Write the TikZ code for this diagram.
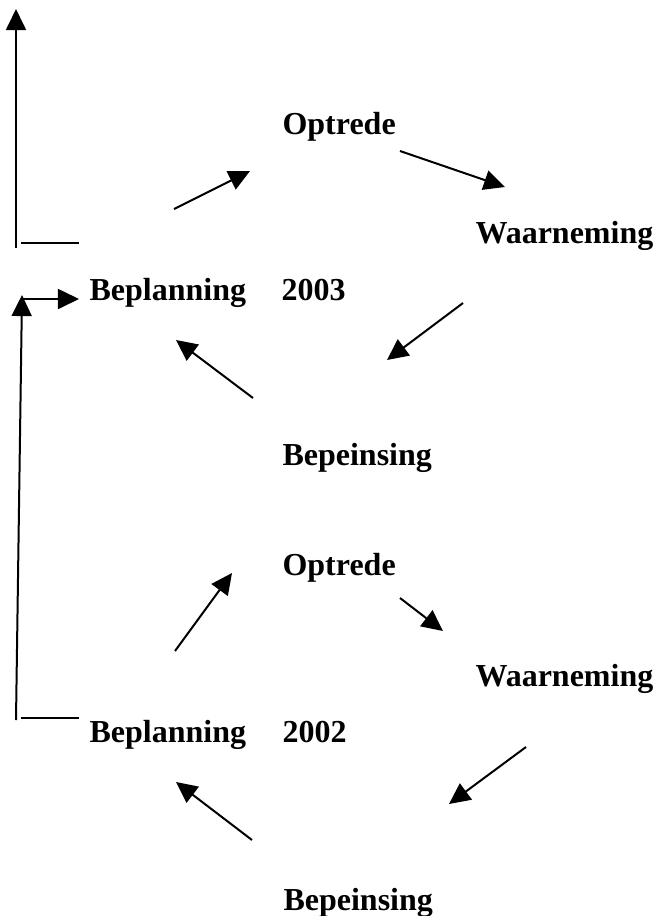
\documentclass[tikz,border=0pt]{standalone}
\usepackage{fontspec}
\setmainfont{Liberation Serif}
\usetikzlibrary{arrows.meta}

\tikzset{
	woord/.style={anchor=base west, inner sep=0pt, font=\fontsize{12}{14}\selectfont\bfseries},
	pyl/.style={-{Triangle[length=7.9pt,width=7.5pt]}, line width=0.75pt},
	lyn/.style={line width=0.75pt}
}

\begin{document}
\begin{tikzpicture}[x=0.375pt, y=-0.375pt]
	\useasboundingbox (0,0) rectangle (656,916);

		% Siklus 2003
		\begin{scope}
			\node[woord] (opt1) at (282,134) {Optrede};
			\node[woord] (waar1) at (475,243) {Waarneming};
			\node[woord] (plan1) at (89,300) {Beplanning};
			\node[woord] (jaar1) at (281,300) {2003};
			\node[woord] (bepe1) at (282,465) {Bepeinsing};
			\coordinate (p1a) at (174,209); \coordinate (p1b) at (250,171);
			\coordinate (p2a) at (400,151); \coordinate (p2b) at (505,187);
			\coordinate (p3a) at (463,303); \coordinate (p3b) at (387,360);
			\coordinate (p4a) at (253,398); \coordinate (p4b) at (176,340);
			\draw[pyl] (p1a) -- (p1b);
			\draw[pyl] (p2a) -- (p2b);
			\draw[pyl] (p3a) -- (p3b);
			\draw[pyl] (p4a) -- (p4b);
		\end{scope}

		% Siklus 2002
		\begin{scope}
			\node[woord] (opt2) at (282,575) {Optrede};
			\node[woord] (waar2) at (475,686) {Waarneming};
			\node[woord] (plan2) at (89,742) {Beplanning};
			\node[woord] (jaar2) at (282,742) {2002};
			\node[woord] (bepe2) at (283,910) {Bepeinsing};
			\coordinate (q1a) at (175,651); \coordinate (q1b) at (232,573);
			\coordinate (q2a) at (400,598); \coordinate (q2b) at (443,631);
			\coordinate (q3a) at (526,747); \coordinate (q3b) at (449,804);
			\coordinate (q4a) at (252,840); \coordinate (q4b) at (176,782);
			\draw[pyl] (q1a) -- (q1b);
			\draw[pyl] (q2a) -- (q2b);
			\draw[pyl] (q3a) -- (q3b);
			\draw[pyl] (q4a) -- (q4b);
		\end{scope}

		% Lyne links
		\coordinate (bo1) at (16,248); \coordinate (bo2) at (16,9);
		\coordinate (h1a) at (21,243); \coordinate (h1b) at (79,243);
		\coordinate (on1) at (16,720); \coordinate (on2) at (22,295);
		\coordinate (h2a) at (21,718); \coordinate (h2b) at (79,718);
		\coordinate (h3a) at (23,299); \coordinate (h3b) at (79,299);
		\draw[pyl] (bo1) -- (bo2);
		\draw[lyn] (h1a) -- (h1b);
		\draw[pyl] (on1) -- (on2);
		\draw[lyn] (h2a) -- (h2b);
		\draw[pyl] (h3a) -- (h3b);

\end{tikzpicture}
\end{document}
